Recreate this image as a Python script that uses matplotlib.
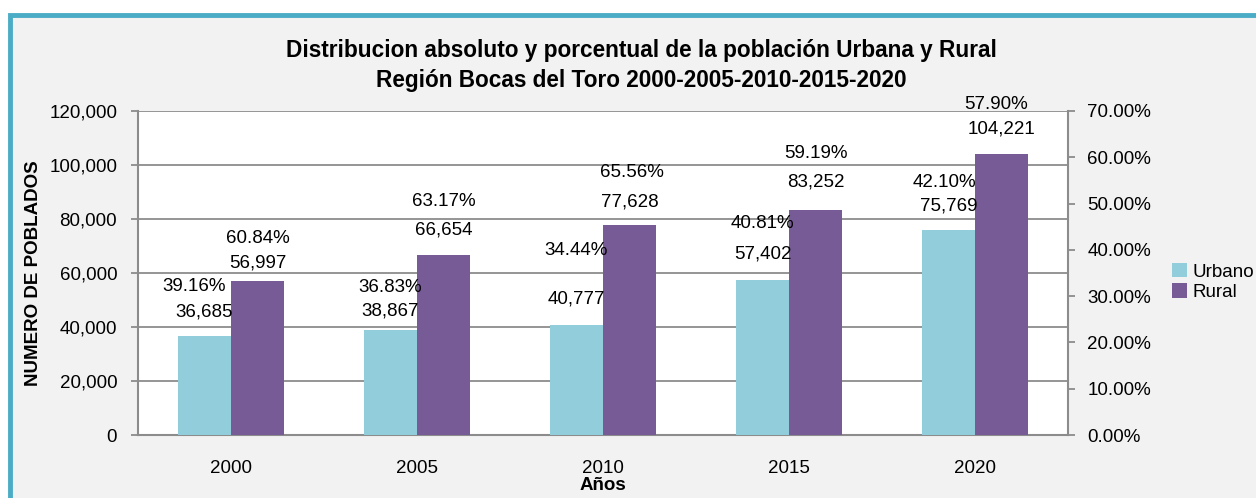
import numpy as np
import matplotlib.pyplot as plt
from matplotlib.patches import Rectangle
from matplotlib.ticker import FuncFormatter

plt.rcParams['font.family'] = ['Liberation Sans', 'DejaVu Sans']

years = ['2000', '2005', '2010', '2015', '2020']
urbano = [36685, 38867, 40777, 57402, 75769]
rural = [56997, 66654, 77628, 83252, 104221]
pct_urbano = [39.16, 36.83, 34.44, 40.81, 42.10]
pct_rural = [60.84, 63.17, 65.56, 59.19, 57.90]

# label offsets above bar top (pixels)
val_off_u = [24, 19, 26, 26, 24]
val_off_r = [18, 25, 23, 28, 25]
pct_off_u = [49, 43, 74, 57, 48]
pct_off_r = [43, 54, 53, 57, 49]
pct_dx_u = [-10, 0, 0, 0, -4]
pct_dx_r = [0, 0, 2, 0, -5]

c_urb = '#92cddc'
c_rur = '#775b97'
bg = '#f2f2f2'
grid_c = '#8c8c8c'

fig = plt.figure(figsize=(12.56, 4.98), dpi=100)
fig.patch.set_facecolor('white')
fig.patches.append(Rectangle((10/1256, -0.1), 1.2, 1 - 15/498 + 0.1, transform=fig.transFigure,
                             facecolor=bg, edgecolor='#4bacc6', linewidth=3.5, zorder=-10))

ax = fig.add_axes([138/1256, 1 - 435/498, 930/1256, 324/498])
ax.set_facecolor('white')
x = np.arange(len(years))
w = 0.285
b1 = ax.bar(x - w/2, urbano, w, color=c_urb, zorder=3)
b2 = ax.bar(x + w/2, rural, w, color=c_rur, zorder=3)
ax.set_xlim(-0.5, 4.5)
ax.set_ylim(0, 120000)
ax.set_yticks(np.arange(0, 120001, 20000))
ax.yaxis.set_major_formatter(FuncFormatter(lambda v, p: f'{int(v):,}'))
ax.grid(axis='y', color=grid_c, linewidth=1.3, zorder=0)
ax.set_xticks(x)
ax.set_xticklabels(years)
ax.tick_params(axis='x', length=0, labelsize=13.5, pad=18)
ax.tick_params(axis='y', length=5, color=grid_c, width=1.3, labelsize=13.5, pad=10)
for s in ['top', 'right']:
    ax.spines[s].set_visible(False)
for s in ['left', 'bottom']:
    ax.spines[s].set_color(grid_c)
    ax.spines[s].set_linewidth(1.5)
ax.set_ylabel('NUMERO DE POBLADOS', fontsize=13.5, fontweight='bold', labelpad=5)
ax.set_xlabel('Años', fontsize=13.5, fontweight='bold', labelpad=0)

for i in range(len(years)):
    ax.annotate(f'{urbano[i]:,}', (x[i] - w/2, urbano[i]), xytext=(0, val_off_u[i]*0.72),
                textcoords='offset points', ha='center', va='center', fontsize=13.5)
    ax.annotate(f'{rural[i]:,}', (x[i] + w/2, rural[i]), xytext=(0, val_off_r[i]*0.72),
                textcoords='offset points', ha='center', va='center', fontsize=13.5)
    ax.annotate(f'{pct_urbano[i]:.2f}%', (x[i] - w/2, urbano[i]),
                xytext=(pct_dx_u[i]*0.72, pct_off_u[i]*0.72),
                textcoords='offset points', ha='center', va='center', fontsize=13.5, annotation_clip=False)
    ax.annotate(f'{pct_rural[i]:.2f}%', (x[i] + w/2, rural[i]),
                xytext=(pct_dx_r[i]*0.72, pct_off_r[i]*0.72),
                textcoords='offset points', ha='center', va='center', fontsize=13.5, annotation_clip=False)

ax2 = ax.twinx()
ax2.set_ylim(0, 70)
ax2.set_yticks(np.arange(0, 71, 10))
ax2.yaxis.set_major_formatter(FuncFormatter(lambda v, p: f'{v:.2f}%'))
ax2.tick_params(axis='y', length=5, color=grid_c, width=1.3, labelsize=13.5, pad=9)
for s in ['top', 'left', 'bottom']:
    ax2.spines[s].set_visible(False)
ax2.spines['right'].set_color(grid_c)
ax2.spines['right'].set_linewidth(1.5)

fig.legend([b1, b2], ['Urbano', 'Rural'], loc='center left', bbox_to_anchor=(1163/1256, 1 - 282/498),
           frameon=False, fontsize=13.5, handlelength=0.8, handleheight=0.8, handletextpad=0.25,
           labelspacing=0.15, borderpad=0)

fig.text(641/1256, 1 - 50/498, 'Distribucion absoluto y porcentual de la población Urbana y Rural',
         ha='center', va='center', fontsize=16.3, fontweight='bold')
fig.text(641/1256, 1 - 81/498, 'Región Bocas del Toro 2000-2005-2010-2015-2020',
         ha='center', va='center', fontsize=16.3, fontweight='bold')

fig.savefig('out.png', dpi=100, facecolor=fig.get_facecolor())
